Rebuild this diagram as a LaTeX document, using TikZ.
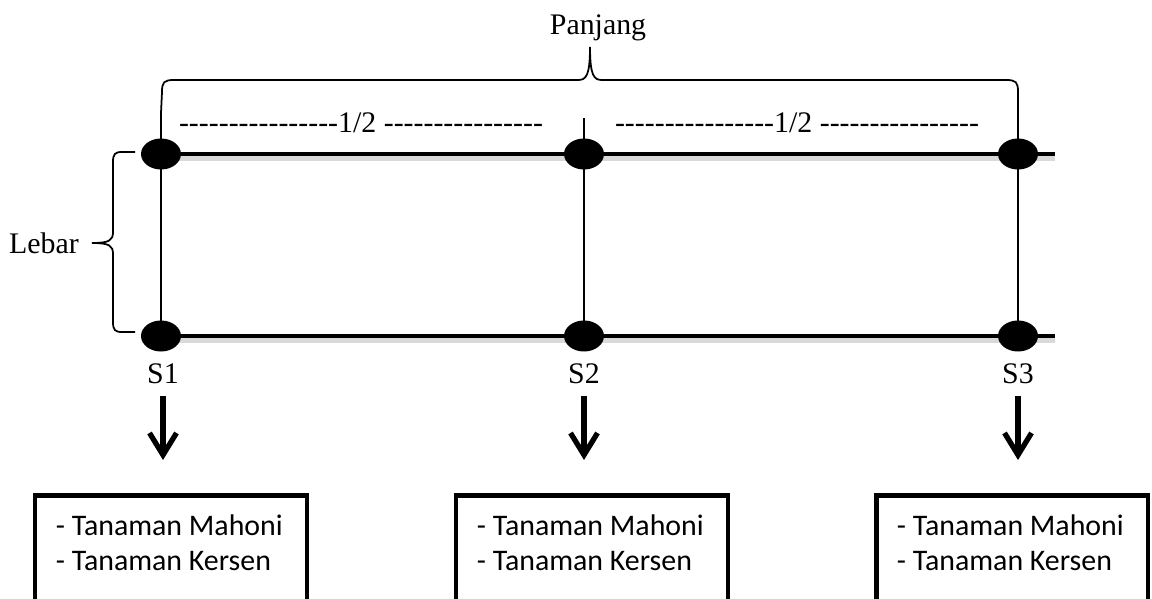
\documentclass[tikz,border=0pt]{standalone}
\usepackage{fontspec}
\setmainfont{Liberation Serif}[Ligatures=TeXOff]
\newfontfamily\boxfont{Carlito}
\usepackage{tikz}
\usetikzlibrary{shapes.geometric,arrows.meta,positioning,backgrounds}
\tikzset{
  dot/.style={ellipse,fill=black,inner sep=0pt,minimum width=0.8cm,minimum height=0.62cm},
  rail/.style={line width=2.8pt},
  railshadow/.style={line width=3.6pt,draw=black!15,transform canvas={yshift=-0.07cm}},
  post/.style={line width=1.1pt},
  brace/.style={line width=1pt},
  lbl/.style={inner sep=0pt,font=\fontsize{17}{20}\selectfont},
  plot/.style={rectangle,draw,line width=2.8pt,minimum width=5.44cm,minimum height=3cm,inner sep=0pt},
  item/.style={inner sep=0pt,align=left,font=\boxfont\fontsize{17}{20}\selectfont},
  down/.style={-{Straight Barb[length=4.4mm,width=5.4mm]},line width=3pt},
}

\begin{document}
\begin{tikzpicture}[x=0.02cm,y=-0.02cm]
  \useasboundingbox (0,0) rectangle (1152,598);

  % sample points
  \node[dot] (t1) at (161,154) {};
  \node[dot] (t2) at (584,154) {};
  \node[dot] (t3) at (1018,154) {};
  \node[dot] (b1) at (161,336) {};
  \node[dot] (b2) at (584,336) {};
  \node[dot] (b3) at (1018,336) {};
  \coordinate (tend) at (1055,154);
  \coordinate (bend) at (1055,336);
  \coordinate (v1a) at (161,113);
  \coordinate (v1b) at (161,350);
  \coordinate (v2a) at (584,118);
  \coordinate (v2b) at (584,348);
  \coordinate (v3a) at (1018,118);
  \coordinate (v3b) at (1018,348);

  \begin{scope}[on background layer]
    \draw[railshadow] (t1.center) -- (tend);
    \draw[railshadow] (b1.center) -- (bend);
    \draw[rail] (t1.center) -- (tend);
    \draw[rail] (b1.center) -- (bend);
    \draw[post] (v1a) -- (v1b);
    \draw[post] (v2a) -- (v2b);
    \draw[post] (v3a) -- (v3b);
  \end{scope}

  % labels
  \node[lbl] (pj) at (598,28) {Panjang};
  \node[lbl] (lb) at (44,243) {Lebar};
  \node[lbl] (h1) at (361,123) {----------------1/2 ----------------};
  \node[lbl] (h2) at (797,123) {----------------1/2 ----------------};
  \node[lbl] (s1) at (163,374) {S1};
  \node[lbl] (s2) at (584,374) {S2};
  \node[lbl] (s3) at (1018,374) {S3};

  % braces
  \draw[brace] (v1a) -- (162,92) .. controls (162,82) and (164,80) .. (174,80)
    -- (578,80) .. controls (586,80) and (590,76) .. (590,47)
    .. controls (590,76) and (594,80) .. (602,80) -- (1006,80)
    .. controls (1016,80) and (1018,82) .. (1018,92) -- (v3a);
  \draw[brace] (135,152) -- (122,152) .. controls (115,152) and (113,154) .. (113,162)
    -- (113,232) .. controls (113,240) and (110,243) .. (92,243)
    .. controls (110,243) and (113,246) .. (113,254) -- (113,322)
    .. controls (113,330) and (115,332) .. (122,332) -- (135,332);

  % result boxes
  \node[plot,anchor=north] (box1) at (171,493) {};
  \node[plot,anchor=north] (box2) at (592,493) {};
  \node[plot,anchor=north] (box3) at (1012,493) {};
  \node[item,anchor=north west] (txt1) at ([xshift=0.46cm,yshift=-0.42cm]box1.north west) {- Tanaman Mahoni\\- Tanaman Kersen};
  \node[item,anchor=north west] (txt2) at ([xshift=0.46cm,yshift=-0.42cm]box2.north west) {- Tanaman Mahoni\\- Tanaman Kersen};
  \node[item,anchor=north west] (txt3) at ([xshift=0.46cm,yshift=-0.42cm]box3.north west) {- Tanaman Mahoni\\- Tanaman Kersen};

  \draw[down,shorten <=0.24cm,shorten >=0.66cm] (s1.south) -- (s1.south |- box1.north);
  \draw[down,shorten <=0.24cm,shorten >=0.66cm] (s2.south) -- (s2.south |- box2.north);
  \draw[down,shorten <=0.24cm,shorten >=0.66cm] (s3.south) -- (s3.south |- box3.north);
\end{tikzpicture}
\end{document}
